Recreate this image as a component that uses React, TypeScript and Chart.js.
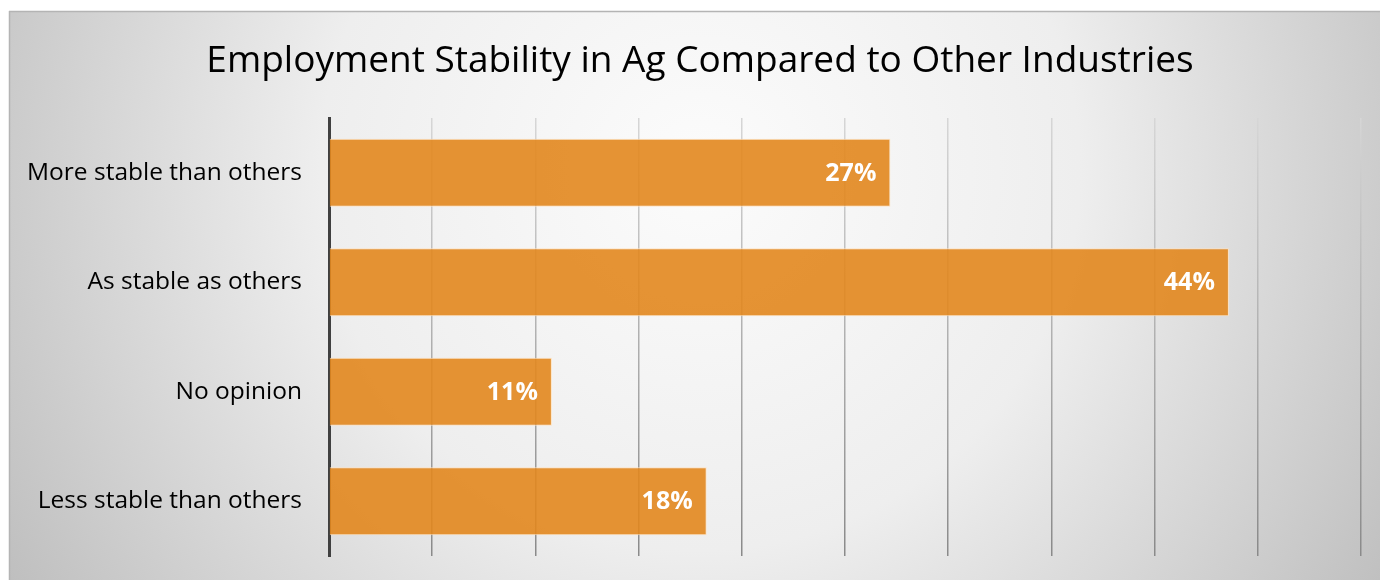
import React, { useEffect, useRef } from "react";
import { Chart, registerables } from "chart.js";

Chart.register(...registerables);

const titleText = "Employment Stability in Ag Compared to Other Industries";
const categories = ["More stable than others", "As stable as others", "No opinion", "Less stable than others"];
const shares = [27.2, 43.6, 10.8, 18.3];
const shareLabels = ["27%", "44%", "11%", "18%"];
const axisMax = 50;
const axisStep = 5;

const backgroundPlugin = {
  id: "panelBg",
  beforeDraw(chart: any) {
    const { ctx, width, height } = chart;
    ctx.save();
    ctx.fillStyle = "#ffffff";
    ctx.fillRect(0, 0, width, height);
    const g = ctx.createRadialGradient(700, 170, 20, 700, 170, 820);
    g.addColorStop(0, "#fbfbfb");
    g.addColorStop(0.45, "#eeeeee");
    g.addColorStop(1, "#bdbdbd");
    ctx.fillStyle = g;
    ctx.fillRect(9, 11, width - 9, height - 11);
    ctx.strokeStyle = "#b4b4b4";
    ctx.lineWidth = 1.5;
    ctx.beginPath();
    ctx.moveTo(9, 11.5);
    ctx.lineTo(width, 11.5);
    ctx.moveTo(9.5, 11);
    ctx.lineTo(9.5, height);
    ctx.stroke();
    ctx.fillStyle = "#000000";
    ctx.font = "37px 'Open Sans'";
    ctx.textAlign = "center";
    ctx.textBaseline = "alphabetic";
    ctx.fillText(titleText, 700, 72);
    ctx.restore();
  },
};

const valueLabelPlugin = {
  id: "valueLabels",
  afterDatasetsDraw(chart: any) {
    const { ctx } = chart;
    const meta = chart.getDatasetMeta(0);
    ctx.save();
    ctx.fillStyle = "#ffffff";
    ctx.font = "bold 25px 'Open Sans'";
    ctx.textAlign = "right";
    ctx.textBaseline = "middle";
    meta.data.forEach((bar: any, i: number) => {
      ctx.fillText(shareLabels[i], bar.x - 14, bar.y + 1);
    });
    ctx.restore();
  },
};

export default function App() {
  const ref = useRef<HTMLCanvasElement>(null);
  useEffect(() => {
    if (!ref.current) return;
    const chart = new Chart(ref.current, {
      type: "bar",
      data: {
        labels: categories,
        datasets: [
          {
            data: shares,
            backgroundColor: "rgba(226,135,30,0.9)",
            borderColor: "rgba(255,225,190,0.9)",
            borderWidth: 1,
            categoryPercentage: 1,
            barPercentage: 0.62,
          },
        ],
      },
      options: {
        indexAxis: "y",
        animation: false,
        responsive: false,
        layout: { padding: { left: 10, right: 19, top: 118, bottom: 24 } },
        plugins: {
          legend: { display: false },
          tooltip: { enabled: false },
          title: { display: false },
        },
        scales: {
          x: {
            min: 0,
            max: axisMax,
            ticks: { display: false, stepSize: axisStep },
            border: { display: false },
            grid: {
              drawTicks: false,
              lineWidth: 1.5,
              color: (c: any) => {
                const ch = c.chart;
                const area = ch.chartArea;
                if (!area) return "#aaaaaa";
                const g = ch.ctx.createLinearGradient(0, area.top, 0, area.bottom);
                g.addColorStop(0, "#d6d6d6");
                g.addColorStop(1, "#8a8a8a");
                return g;
              },
            },
            afterFit: (s: any) => {
              s.height = 0;
              s.paddingLeft = 0;
              s.paddingRight = 0;
            },
          },
          y: {
            grid: { display: false, drawTicks: false },
            border: { display: true, color: "#404040", width: 3 },
            ticks: {
              color: "#000000",
              padding: 27,
              font: { family: "'Open Sans'", size: 24.5 },
            },
            afterFit: (s: any) => {
              s.width = 319;
              s.paddingTop = 0;
              s.paddingBottom = 0;
            },
          },
        },
      },
      plugins: [backgroundPlugin, valueLabelPlugin],
    });
    return () => chart.destroy();
  }, []);
  return (
    <div style={{ position: "fixed", left: 0, top: 0, width: 1380, height: 580 }}>
      <canvas ref={ref} width={1380} height={580} />
    </div>
  );
}
